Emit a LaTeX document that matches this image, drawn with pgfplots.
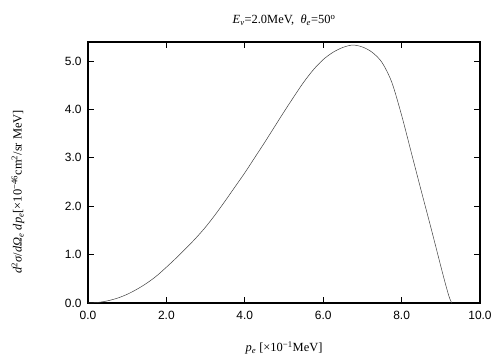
\documentclass[border=0pt]{standalone}
\usepackage{pgfplots}
\pgfplotsset{compat=1.18}
\usepackage{fontspec}
\setmainfont{Liberation Serif}
\setsansfont{Liberation Sans}
\newcommand{\ti}[1]{\textit{#1}}
\begin{document}
\begin{tikzpicture}
\begin{axis}[
  at={(88bp,-303bp)}, anchor=south west,
  scale only axis, width=392bp, height=261bp,
  xmin=0, xmax=10, ymin=0, ymax=5.393,
  xtick={0,2,...,10}, ytick={0,1,...,5},
  xticklabel={\pgfmathprintnumber[fixed,fixed zerofill,precision=1]{\tick}},
  yticklabel={\pgfmathprintnumber[fixed,fixed zerofill,precision=1]{\tick}},
  /pgf/number format/assume math mode=true,
  ticklabel style={font=\sffamily\fontsize{12}{14}\selectfont},
  xticklabel style={yshift=-5bp},
  yticklabel style={xshift=-3bp},
  tick align=inside, major tick length=6bp,
  tick style={black, line width=0.8bp},
  axis line style={line width=1.1bp},
  clip=false,
]
\addplot[smooth, tension=0.5, line width=0.5bp, black!75] coordinates {
(0.00,0.000) (0.25,0.011) (0.50,0.045) (0.75,0.10) (1.00,0.18) (1.25,0.285)
(1.50,0.41) (1.75,0.56) (2.00,0.74) (2.25,0.93) (2.50,1.13) (2.75,1.34)
(3.00,1.57) (3.25,1.83) (3.50,2.11) (3.75,2.40) (4.00,2.69) (4.25,3.00)
(4.50,3.31) (4.75,3.63) (5.00,3.95) (5.25,4.26) (5.50,4.56) (5.75,4.82)
(6.00,5.03) (6.25,5.18) (6.50,5.28) (6.75,5.33) (7.00,5.29) (7.25,5.18)
(7.50,4.97) (7.75,4.56) (8.00,3.88) (8.25,3.10) (8.50,2.32) (8.75,1.55)
(9.00,0.76) (9.10,0.45) (9.20,0.16) (9.25,0.05) (9.28,0.00)
};
\end{axis}
\node[font=\fontsize{12.5}{14}\selectfont] at (284bp,-20bp) {\ti{E}\textsubscript{\ti{ν}}=2.0MeV, \ \ti{θ}\textsubscript{\ti{e}}=50\textsuperscript{o}};
\node[font=\fontsize{12.5}{14}\selectfont] at (284bp,-348bp) {\ti{p}\textsubscript{\ti{e}} [×10\textsuperscript{−1}MeV]};
\node[rotate=90, font=\fontsize{12.5}{14}\selectfont] at (18bp,-192bp) {\ti{d}\textsuperscript{2}\ti{σ}/\ti{d}\ti{Ω}\textsubscript{\ti{e}} \ti{dp}\textsubscript{\ti{e}}[×10\textsuperscript{−46}cm\textsuperscript{2}/sr MeV]};
\pgfresetboundingbox
\path[use as bounding box] (0,0) rectangle (504bp,-360bp);
\end{tikzpicture}
\end{document}
